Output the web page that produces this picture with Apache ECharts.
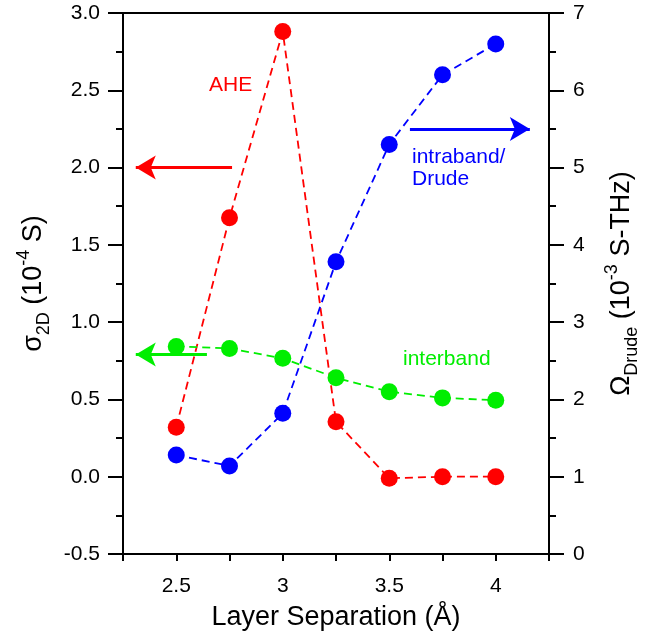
<!DOCTYPE html>
<html>
<head>
<meta charset="utf-8">
<script src="https://cdn.jsdelivr.net/npm/echarts@6/dist/echarts.min.js"></script>
<style>html,body{margin:0;padding:0;background:#fff}#c{width:665px;height:636px}</style>
</head>
<body>
<div id="c"></div>
<script>
var layerSep = [2.5, 2.75, 3.0, 3.25, 3.5, 3.75, 4.0];
var aheValues = [0.32, 1.675, 2.88, 0.355, -0.01, 0.0, 0.0];
var interbandValues = [0.843, 0.83, 0.766, 0.64, 0.55, 0.51, 0.495];
var drudeValues = [1.28, 1.14, 1.82, 3.78, 5.30, 6.20, 6.60];
var xTickLabels = [2.5, 3, 3.5, 4];

var RED = '#ff0000', GREEN = '#00ee00', BLUE = '#0000ff';
var FONT = 'Liberation Sans, Arial, Helvetica, sans-serif';

function pairs(xs, ys) { return xs.map(function (x, i) { return [x, ys[i]]; }); }
function arrow(x1, x2, y, color) {
  return {
    silent: true, animation: false,
    symbol: ['none', 'arrow'], symbolSize: [18, 20],
    lineStyle: { type: 'solid', width: 3, color: color },
    label: { show: false },
    emphasis: { disabled: true },
    data: [[{ coord: [x1, y] }, { coord: [x2, y] }]]
  };
}
function titleRich() {
  return {
    m: { fontSize: 27, color: '#000', fontFamily: FONT, lineHeight: 38, verticalAlign: 'middle' },
    sub: { fontSize: 18, color: '#000', fontFamily: FONT, lineHeight: 38, verticalAlign: 'bottom' },
    sup: { fontSize: 18, color: '#000', fontFamily: FONT, lineHeight: 38, verticalAlign: 'top' }
  };
}

var chart = echarts.init(document.getElementById('c'));
var axisLine = { show: true, onZero: false, lineStyle: { color: '#000', width: 2 } };
chart.setOption({
  animation: false,
  textStyle: { fontFamily: FONT },
  grid: { left: 123, right: 116, top: 13, bottom: 81, show: true, borderColor: '#000', borderWidth: 2, backgroundColor: 'transparent' },
  xAxis: {
    type: 'value', min: 2.25, max: 4.25, interval: 0.25,
    axisLine: axisLine,
    axisTick: { show: true, inside: false, length: 7, lineStyle: { color: '#000', width: 2 } },
    splitLine: { show: false },
    axisLabel: {
      color: '#000', fontSize: 21, fontFamily: FONT, margin: 22, showMinLabel: true, showMaxLabel: true,
      formatter: function (v) {
        for (var i = 0; i < xTickLabels.length; i++) {
          if (Math.abs(v - xTickLabels[i]) < 1e-6) return String(xTickLabels[i]);
        }
        return '';
      }
    },
    name: 'Layer Separation (Å)', nameLocation: 'middle', nameGap: 50,
    nameTextStyle: { color: '#000', fontSize: 27, fontFamily: FONT }
  },
  yAxis: [{
    type: 'value', min: -0.5, max: 3.0, interval: 0.5, position: 'left',
    axisLine: axisLine,
    axisTick: { show: true, inside: false, length: 15, lineStyle: { color: '#000', width: 2 } },
    minorTick: { show: true, splitNumber: 2, length: 7, lineStyle: { color: '#000', width: 2 } },
    splitLine: { show: false },
    axisLabel: { color: '#000', fontSize: 21, fontFamily: FONT, margin: 23, formatter: function (v) { return v.toFixed(1); } },
    name: '{m|σ}{sub|2D}{m| (10}{sup|-4}{m| S)}', nameLocation: 'middle', nameGap: 66, nameRotate: 90,
    nameTextStyle: { color: '#000', fontFamily: FONT, rich: titleRich() }
  }, {
    type: 'value', min: 0, max: 7, interval: 1, position: 'right',
    axisLine: axisLine,
    axisTick: { show: true, inside: false, length: 15, lineStyle: { color: '#000', width: 2 } },
    minorTick: { show: true, splitNumber: 2, length: 7, lineStyle: { color: '#000', width: 2 } },
    splitLine: { show: false },
    axisLabel: { color: '#000', fontSize: 21, fontFamily: FONT, margin: 24 },
    name: '{m|Ω}{sub|Drude}{m| (10}{sup|-3}{m| S-THz)}', nameLocation: 'middle', nameGap: 54, nameRotate: 90,
    nameTextStyle: { color: '#000', fontFamily: FONT, rich: titleRich() }
  }],
  series: [{
    name: 'AHE', type: 'line', yAxisIndex: 0, data: pairs(layerSep, aheValues),
    symbol: 'circle', symbolSize: 17, itemStyle: { color: RED },
    lineStyle: { color: RED, width: 1.8, type: [8, 5] },
    markLine: arrow(2.762, 2.31, 2.0, RED), z: 3
  }, {
    name: 'interband', type: 'line', yAxisIndex: 0, data: pairs(layerSep, interbandValues),
    symbol: 'circle', symbolSize: 17, itemStyle: { color: GREEN },
    lineStyle: { color: GREEN, width: 1.8, type: [8, 5] },
    markLine: arrow(2.644, 2.31, 0.79, GREEN), z: 4
  }, {
    name: 'Drude', type: 'line', yAxisIndex: 1, data: pairs(layerSep, drudeValues),
    symbol: 'circle', symbolSize: 17, itemStyle: { color: BLUE },
    lineStyle: { color: BLUE, width: 1.8, type: [8, 5] },
    markLine: arrow(3.597, 4.16, 5.5, BLUE), z: 3
  }],
  graphic: [
    { type: 'text', left: 209, top: 75, style: { text: 'AHE', fill: RED, fontSize: 21, fontFamily: FONT } },
    { type: 'text', left: 412, top: 146, style: { text: 'intraband/\nDrude', fill: BLUE, fontSize: 21, lineHeight: 22, fontFamily: FONT } },
    { type: 'text', left: 403, top: 349, style: { text: 'interband', fill: GREEN, fontSize: 21, fontFamily: FONT } }
  ]
});
</script>
</body>
</html>
